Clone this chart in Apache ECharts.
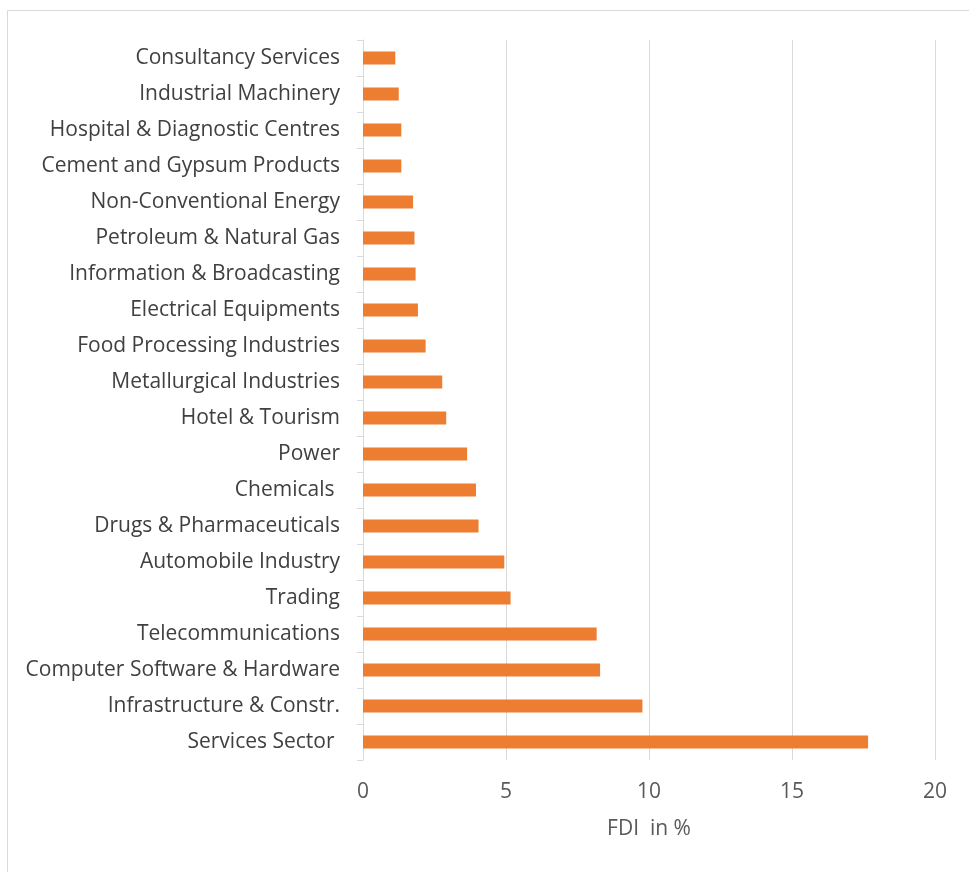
<!DOCTYPE html>
<html><head><meta charset="utf-8">
<script src="https://cdn.jsdelivr.net/npm/echarts@6/dist/echarts.min.js"></script>
<style>html,body{margin:0;padding:0;background:#fff}#c{width:969px;height:872px}</style>
</head><body><div id="c"></div>
<script>
const categories = ["Consultancy Services","Industrial Machinery","Hospital & Diagnostic Centres","Cement and Gypsum Products","Non-Conventional Energy","Petroleum & Natural Gas","Information & Broadcasting","Electrical Equipments","Food Processing Industries","Metallurgical Industries","Hotel & Tourism","Power","Chemicals ","Drugs & Pharmaceuticals","Automobile Industry","Trading","Telecommunications","Computer Software & Hardware","Infrastructure & Constr.","Services Sector "];
const fdiValues = [1.13,1.25,1.34,1.34,1.75,1.80,1.84,1.92,2.19,2.77,2.91,3.64,3.95,4.04,4.94,5.16,8.17,8.29,9.77,17.66];
const xTicks = [0,5,10,15,20];
const xAxisName = "FDI  in %";

const chart = echarts.init(document.getElementById('c'), null, {renderer:'canvas'});
const font = '"Open Sans", sans-serif';
chart.setOption({
  animation:false,
  backgroundColor:'#fff',
  graphic:[{type:'rect',shape:{x:7.5,y:10.5,width:975,height:875},style:{fill:'none',stroke:'#d9d9d9',lineWidth:1}}],
  grid:{left:363,right:34,top:40,bottom:112,containLabel:false},
  xAxis:{type:'value',min:xTicks[0],max:xTicks[xTicks.length-1],interval:5,
    axisLine:{show:false},axisTick:{show:false},
    splitLine:{lineStyle:{color:'#d9d9d9',width:1}},
    axisLabel:{color:'#595959',fontSize:21,fontFamily:font,margin:22},
    name:xAxisName,nameLocation:'middle',nameGap:59,
    nameTextStyle:{color:'#595959',fontSize:21,fontFamily:font}},
  yAxis:{type:'category',data:categories,inverse:true,
    axisLine:{show:true,lineStyle:{color:'#d9d9d9',width:1}},
    axisTick:{show:true,length:6,lineStyle:{color:'#d9d9d9'}},
    axisLabel:{color:'#404040',fontSize:21,fontFamily:font,margin:23,padding:[3,0,0,0]}},
  series:[{type:'bar',data:fdiValues,barWidth:'36%',itemStyle:{color:'#ED7D31'}}]
});
</script></body></html>
